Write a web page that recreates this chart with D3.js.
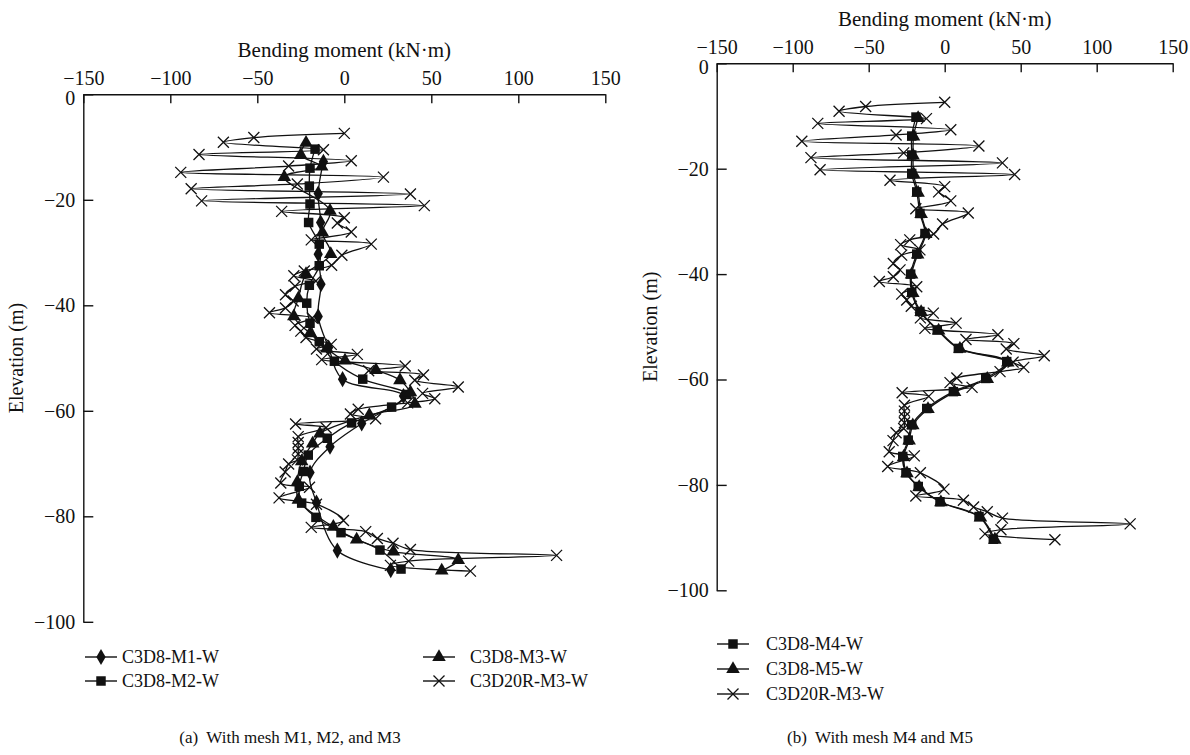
<!DOCTYPE html>
<html><head><meta charset="utf-8">
<script src="https://cdn.jsdelivr.net/npm/d3@7"></script>
<style>
body{margin:0;background:#fff}
svg text{font-family:"Liberation Serif","DejaVu Serif","Times New Roman",serif;fill:#111}
</style>
</head><body>
<svg id="c" width="1190" height="755" font-family="Liberation Serif, DejaVu Serif, serif"></svg>
<script>
// ---- data (moment kN·m, elevation m) ----
const momentTicks = [-150, -100, -50, 0, 50, 100, 150];
const elevTicks = [0, -20, -40, -60, -80, -100];

const seriesNamesA = ["C3D8-M1-W", "C3D8-M2-W", "C3D8-M3-W", "C3D20R-M3-W"];
const seriesNamesB = ["C3D8-M4-W", "C3D8-M5-W", "C3D20R-M3-W"];

const m1 = [[-12,-12.8],[-15,-18.8],[-13.6,-24.3],[-15,-30.3],[-13.4,-36],[-15,-42.1],[-9,-48],[-1,-54],[34,-57.2],[10,-62.4],[-8.2,-66.8],[-19.7,-71.7],[-16,-77.4],[-4,-86.5],[26.7,-90.2]];

const m2 = [[-16.8,-10.4],[-19.7,-14],[-20.1,-17.4],[-19.7,-20.8],[-20.5,-24.3],[-14.4,-28.4],[-14.4,-32.5],[-20.1,-36.2],[-21.6,-39.6],[-19.7,-43.4],[-14.4,-46.9],[-5.7,-50.6],[10.6,-54],[36,-56.9],[27.2,-59.3],[4.2,-62.3],[-9.8,-65.2],[-20.7,-68.4],[-23.5,-71.5],[-25.9,-74.3],[-24.5,-77.5],[-16.3,-80.2],[-1.9,-83.1],[20.5,-86.4],[32.6,-90]];

const m3 = [[-22,-9.2],[-25,-11.5],[-13,-13.7],[-34.5,-15.7],[-8.2,-22.1],[-12.6,-26.2],[-7.8,-30.3],[-22,-34.1],[-26.4,-38.7],[-29,-42.1],[-19.7,-45.3],[-10.1,-48.2],[0.4,-50.5],[18.2,-52.3],[32,-54.2],[38,-56.5],[40.6,-58.7],[14.4,-60.8],[-14,-64.3],[-18.2,-66.2],[-24.5,-69.6],[-27,-73.5],[-26.4,-76.9],[-6.3,-82],[7.1,-84.4],[28.2,-86.7],[65.5,-88.3],[56,-90.3]];

const c20m3 = [[0,-7.4],[-52,-8.2],[-69.5,-9.1],[-12,-10.5],[-83.5,-11.4],[4,-12.6],[-32,-13.6],[-94,-14.8],[22.5,-15.7],[-27,-17],[-88,-17.9],[38,-18.9],[-82,-20.2],[46,-21.1],[-36,-22.2],[0,-23.4],[-4,-24.4],[4,-26.1],[-19,-27.6],[15.5,-28.4],[-1.4,-30.5],[-7.3,-32.4],[-23,-33.5],[-29,-34.4],[-16.3,-35.4],[-28.3,-36.4],[-33.8,-38],[-29.4,-39.2],[-33.8,-40.5],[-43,-41.4],[-18.4,-42.4],[-28.3,-43.8],[-25,-44.9],[-22,-46.1],[-7.5,-47.4],[-16,-48.3],[7.5,-49.3],[-13,-50.3],[35,-51.5],[14,-52.4],[45.5,-53.2],[40.5,-54.2],[65.5,-55.5],[45,-56.7],[52,-57.7],[36.4,-58.5],[8,-59.7],[3.5,-60.6],[18,-61.5],[-28,-62.5],[-10.5,-63.2],[-26.5,-64.9],[-26.5,-66],[-26.5,-67.1],[-26.5,-68.2],[-27,-69.3],[-32,-70.1],[-34,-71.6],[-36.5,-73.7],[-20,-74.5],[-37.5,-76.5],[-16,-77.7],[-0.5,-80.8],[-19,-82.1],[12.3,-82.9],[19,-84.2],[28,-85.1],[38,-86.3],[122,-87.4],[37,-88.5],[26.5,-89.3],[72.5,-90.4]];

const m4 = [[-18.9,-10.2],[-21.7,-13.8],[-21.7,-17.4],[-21.7,-20.9],[-18.4,-24.4],[-16.3,-28.5],[-13,-32.3],[-18.4,-36.2],[-22.4,-40],[-21.7,-43.5],[-16.3,-47.1],[-4.9,-50.6],[9,-54.1],[40.8,-56.6],[27,-59.8],[5.7,-62.3],[-11.8,-65.5],[-21.7,-68.6],[-24,-71.5],[-27.6,-74.6],[-25.5,-77.7],[-17.4,-80.3],[-3.1,-83.2],[22.6,-86],[32,-90.3]];

const m5 = [[-17.5,-10.4],[-20.5,-13.9],[-20.8,-17.5],[-20.5,-21],[-17.5,-24.6],[-15.5,-28.6],[-12.5,-32.4],[-17.8,-36.3],[-21.8,-40.1],[-21,-43.6],[-15.5,-47.2],[-4,-50.7],[10,-54.2],[41.5,-56.8],[28,-59.9],[6.5,-62.4],[-11,-65.6],[-21,-68.7],[-23.4,-71.6],[-27,-74.7],[-24.8,-77.8],[-16.8,-80.4],[-2.5,-83.3],[23.5,-86.2],[33,-90.4]];

const captionA = "(a)  With mesh M1, M2, and M3";
const captionB = "(b)  With mesh M4 and M5";
const xTitle = "Bending moment (kN·m)";
const yTitle = "Elevation (m)";

// ---- drawing ----
const svg = d3.select("#c");
const SERIF = "Liberation Serif, DejaVu Serif, serif";

function markerPath(type) {
  if (type === "diamond") return d3.symbol(d3.symbolDiamond, 75)();
  if (type === "square") return d3.symbol(d3.symbolSquare, 90)();
  if (type === "triangle") return d3.symbol(d3.symbolTriangle, 80)();
  const s = 5.5;
  return `M${-s},${-s}L${s},${s}M${-s},${s}L${s},${-s}`;
}

function drawMarker(g, type, cx, cy) {
  const p = g.append("path").attr("d", markerPath(type))
    .attr("transform", `translate(${cx},${cy})`);
  if (type === "cross") p.attr("fill", "none").attr("stroke", "#111").attr("stroke-width", 1.3);
  else p.attr("fill", "#111");
}

function txt(g, size) {
  return g.append("text").attr("font-family", SERIF).attr("font-size", size).attr("fill", "#111");
}

function panel(cfg) {
  const x = d3.scaleLinear().domain([-150, 150]).range([cfg.left, cfg.right]);
  const y = d3.scaleLinear().domain([0, -100]).range([cfg.top, cfg.bottom]);
  const g = svg.append("g");

  const fmt = d => String(d).replace("-", "\u2212");
  const xa = g.append("g").attr("transform", `translate(0,${cfg.top})`)
    .call(d3.axisTop(x).tickValues(momentTicks).tickSizeInner(-9).tickSizeOuter(0).tickPadding(9).tickFormat(fmt));
  const ya = g.append("g").attr("transform", `translate(${cfg.left},0)`)
    .call(d3.axisLeft(y).tickValues(elevTicks).tickSizeInner(-10).tickSizeOuter(0).tickPadding(8).tickFormat(fmt));
  [xa, ya].forEach(a => {
    a.attr("font-family", SERIF).attr("font-size", 20);
    a.selectAll("path,line").attr("stroke", "#111").attr("stroke-width", 1.4);
    a.selectAll("text").attr("font-family", SERIF).attr("font-size", 20).attr("fill", "#111");
  });
  ya.selectAll(".tick").filter(d => d === 0).select("text").attr("y", 4);

  txt(g, 21).attr("x", x(0)).attr("y", cfg.top - 37)
    .attr("text-anchor", "middle").text(xTitle);
  txt(g, 20).attr("transform", `translate(${cfg.left - 60},${(cfg.top + cfg.bottom) / 2}) rotate(-90)`)
    .attr("text-anchor", "middle").text(yTitle);

  const line = d3.line().x(d => x(d[0])).y(d => y(d[1])).curve(d3.curveCatmullRom.alpha(0.5));
  cfg.series.forEach(s => {
    g.append("path").attr("d", line(s.data)).attr("fill", "none")
      .attr("stroke", "#111").attr("stroke-width", 1.3);
  });
  cfg.series.forEach(s => {
    const mg = g.append("g");
    s.data.forEach(d => drawMarker(mg, s.marker, x(d[0]), y(d[1])));
  });

  // legend
  cfg.series.forEach((s, i) => {
    const L = cfg.legend[i];
    g.append("line").attr("x1", L.x).attr("x2", L.x + 32).attr("y1", L.y).attr("y2", L.y)
      .attr("stroke", "#111").attr("stroke-width", 1.4);
    drawMarker(g, s.marker, L.x + 16, L.y);
    txt(g, 18).attr("x", L.tx).attr("y", L.y).attr("dy", "0.35em").text(s.name);
  });

  txt(g, 17).attr("x", cfg.capX).attr("y", 743).attr("text-anchor", "middle")
    .attr("xml:space", "preserve").style("white-space", "pre").text(cfg.caption);
}

panel({
  left: 83.3, right: 605.3, top: 94.3, bottom: 621.8,
  series: [
    {name: seriesNamesA[0], data: m1, marker: "diamond"},
    {name: seriesNamesA[1], data: m2, marker: "square"},
    {name: seriesNamesA[2], data: m3, marker: "triangle"},
    {name: seriesNamesA[3], data: c20m3, marker: "cross"}
  ],
  legend: [
    {x: 85, y: 657, tx: 122},
    {x: 85, y: 681, tx: 122},
    {x: 423, y: 657, tx: 470},
    {x: 423, y: 681, tx: 470}
  ],
  caption: captionA, capX: 290
});

panel({
  left: 716.7, right: 1172.7, top: 63.3, bottom: 590.3,
  series: [
    {name: seriesNamesB[0], data: m4, marker: "square"},
    {name: seriesNamesB[1], data: m5, marker: "triangle"},
    {name: seriesNamesB[2], data: c20m3, marker: "cross"}
  ],
  legend: [
    {x: 717, y: 644, tx: 766},
    {x: 717, y: 669, tx: 766},
    {x: 717, y: 694, tx: 766}
  ],
  caption: captionB, capX: 880
});
</script>
</body></html>
